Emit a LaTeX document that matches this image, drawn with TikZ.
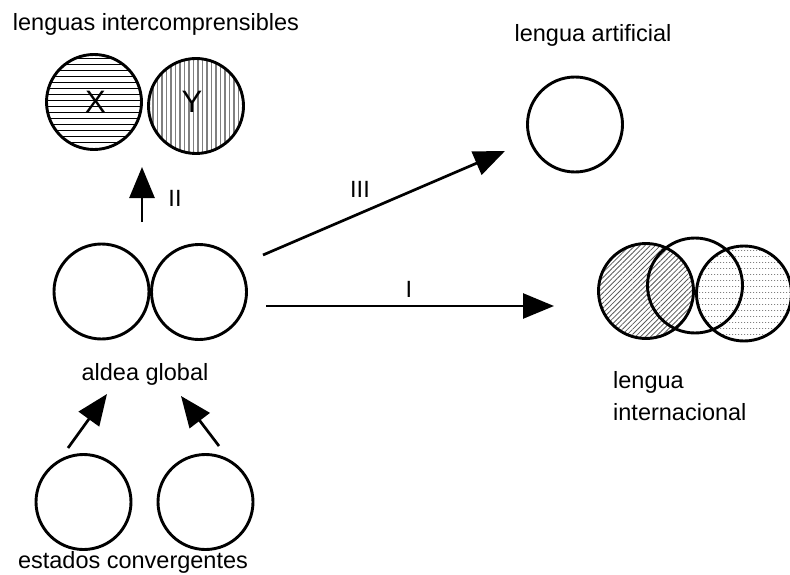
\documentclass[tikz,border=0pt]{standalone}
\usepackage{fontspec}
\setmainfont{Liberation Sans}
\usetikzlibrary{arrows.meta,patterns,patterns.meta}

% small grey dashes on a 3pt x 6pt grid
\pgfdeclarepatternformonly{finedots}{\pgfpointorigin}{\pgfpoint{3pt}{6pt}}{\pgfpoint{3pt}{6pt}}{%
  \pgfpathrectangle{\pgfpointorigin}{\pgfpoint{1.5pt}{1pt}}\pgfusepath{fill}}

\begin{document}
\begin{tikzpicture}[x=1pt,y=-1pt,
  ring/.style={circle,draw,line width=2.9pt,inner sep=0pt,minimum size=95pt},
  lbl/.style={font=\fontsize{23.5}{27}\selectfont,inner sep=0pt,anchor=base},
  biglbl/.style={font=\fontsize{31}{36}\selectfont,inner sep=0pt,anchor=base},
  bigarrow/.style={line width=2.7pt,-{Triangle[length=31pt,width=25pt]}}]
\useasboundingbox (0,0) rectangle (790,575);

% intercomprehensible languages
\node[ring,pattern={Lines[angle=0,distance=6pt,line width=1pt]},pattern color=black] (cx) at (94,102) {};
\node[ring,pattern={Lines[angle=90,distance=4.5pt,line width=1.1pt]},pattern color=gray] (cy) at (196,106) {};
\node[biglbl] (tx) at (95.5,113) {X};
\node[biglbl] (ty) at (192,113) {Y};
\node[lbl] (tinter) at (156,31) {lenguas intercomprensibles};

% artificial language
\node[ring] (art) at (575,124.5) {};
\node[lbl] (tart) at (593,42) {lengua artificial};

% global village
\node[ring] (g1) at (101.5,291.5) {};
\node[ring] (g2) at (199,292) {};
\node[lbl] (tglob) at (145,380) {aldea global};

% international language
\node[ring,pattern={Lines[angle=45,distance=3.6pt,line width=0.8pt]},pattern color=black!65] (i1) at (646,291) {};
\node[ring,pattern=finedots,pattern color=gray] (i3) at (744,293.5) {};
\node[ring] (i2) at (695,285.5) {};
\node[lbl,anchor=base west] (tlen) at (613,388) {lengua};
\node[lbl,anchor=base west] (tint) at (613,420) {internacional};

% converging states
\node[ring] (s1) at (83.5,502) {};
\node[ring] (s2) at (205.5,502) {};
\node[lbl] (tstate) at (133,568) {estados convergentes};

% connector end points
\coordinate (a2s) at (142,222);
\coordinate (a2e) at (142,167);
\coordinate (a3s) at (263,255);
\coordinate (a3e) at (505,151);
\coordinate (a1s) at (266,306);
\coordinate (a1e) at (554,306);
\coordinate (b1s) at (68,448);
\coordinate (b1e) at (107,394);
\coordinate (b2s) at (219,446);
\coordinate (b2e) at (181,396);

\draw[bigarrow] (a2s) -- (a2e);
\draw[bigarrow] (a3s) -- (a3e);
\draw[bigarrow] (a1s) -- (a1e);
\draw[bigarrow] (b1s) -- (b1e);
\draw[bigarrow] (b2s) -- (b2e);

\node[lbl] (l2) at (175,207) {II};
\node[lbl] (l3) at (360,197) {III};
\node[lbl] (l1) at (409,297) {I};
\end{tikzpicture}
\end{document}
